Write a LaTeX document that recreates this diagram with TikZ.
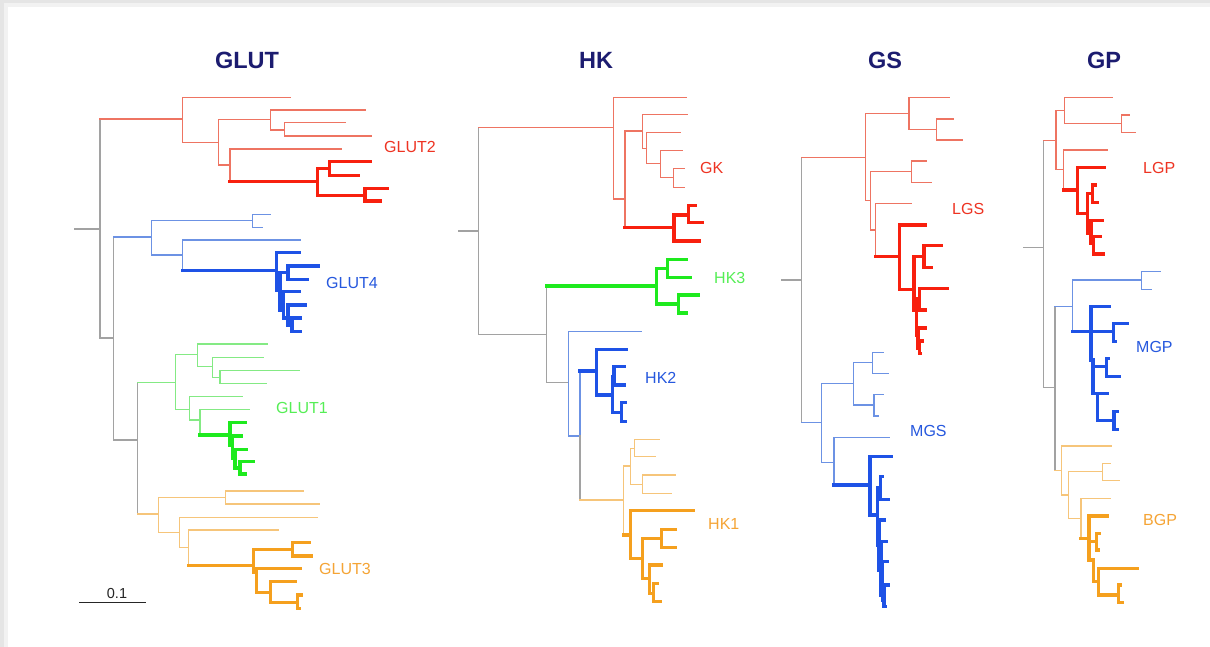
\documentclass[tikz,border=0pt]{standalone}
\usepackage{fontspec}
\setmainfont{Liberation Sans}
\definecolor{cRT}{HTML}{F8200E}
\definecolor{cRt}{HTML}{EE7462}
\definecolor{cBT}{HTML}{1E52E6}
\definecolor{cBt}{HTML}{6C92E4}
\definecolor{cGT}{HTML}{1EEA1E}
\definecolor{cGt}{HTML}{84EA84}
\definecolor{cOT}{HTML}{F5A01E}
\definecolor{cOt}{HTML}{F6C57A}
\definecolor{cGr}{HTML}{A2A2A2}
\definecolor{cNavy}{HTML}{1C1C70}
\definecolor{lRed}{HTML}{EE3322}
\definecolor{lBlue}{HTML}{2658DE}
\definecolor{lGreen}{HTML}{55EE55}
\definecolor{lOrange}{HTML}{F5A435}
\newcommand\nd[6]{\draw[#1] (#2,#4) -- (#3,#4) (#3,#5) -- (#3,#6);}
\newcommand\lf[4]{\draw[#1] (#2,#3) -- (#4,#3);}
\tikzset{
  thinln/.style={line width=1.35pt, line cap=rect},
  thickln/.style={line width=3.1pt, line cap=rect},
  rt/.style={thinln, draw=cRt}, rT/.style={thickln, draw=cRT},
  bt/.style={thinln, draw=cBt}, bT/.style={thickln, draw=cBT},
  gt/.style={thinln, draw=cGt}, gT/.style={thickln, draw=cGT},
  ot/.style={thinln, draw=cOt}, oT/.style={thickln, draw=cOT},
  gr/.style={thinln, draw=cGr},
  ttl/.style={font=\bfseries\fontsize{23.5}{23.5}\selectfont, text=cNavy, inner sep=0pt},
  lbl/.style={font=\fontsize{16}{16}\selectfont, anchor=west, inner sep=0pt},
}
\begin{document}
\begin{tikzpicture}[x=1pt,y=-1pt]
\useasboundingbox (0,0) rectangle (1210,647);
\fill[black!10] (0,0) rectangle (1210,647);
\fill[black!5] (4,3) rectangle (1210,647);
\fill[white] (8,7) rectangle (1210,647);
% titles
\node[ttl] (tglut) at (247,60) {GLUT};
\node[ttl] (thk) at (596,60) {HK};
\node[ttl] (tgs) at (885,60) {GS};
\node[ttl] (tgp) at (1104,60) {GP};
%%%%%%%%%%%%%%%% GLUT
\draw[gr] (75,229) -- (100,229);
\draw[gr] (100,119) -- (100,338);
\nd{gr}{100}{113.3}{338}{237}{440}
\nd{gr}{113.3}{137.3}{440}{382.7}{514}
\nd{rt}{100}{182.7}{119}{97.3}{142.3}
\nd{bt}{113.3}{151.7}{237}{220.7}{255}
\nd{gt}{137.3}{175.7}{382.7}{354.3}{409.3}
\nd{ot}{137.3}{158.3}{514}{497.3}{532.3}
% red
\lf{rt}{182.7}{97.3}{290}
\nd{rt}{182.7}{218.3}{142.3}{119.3}{165}
\nd{rt}{218.3}{270.7}{119.3}{110}{130}
\lf{rt}{270.7}{110}{365}
\nd{rt}{270.7}{284.3}{130}{122.7}{136}
\lf{rt}{284.3}{122.7}{345.7}
\lf{rt}{284.3}{136}{371.7}
\nd{rt}{218.3}{230}{165}{149}{181.7}
\lf{rt}{230}{149}{341.7}
\nd{rT}{230}{317.3}{181.7}{168.3}{195.7}
\nd{rT}{317.3}{329.3}{168.3}{161.7}{175.7}
\lf{rT}{329.3}{161.7}{370.7}
\lf{rT}{329.3}{175.7}{358.3}
\nd{rT}{317.3}{365}{195.7}{188.3}{201}
\lf{rT}{365}{188.3}{387.3}
\lf{rT}{365}{201}{380.7}
% blue
\nd{bt}{151.7}{252.7}{220.7}{214.3}{227.3}
\lf{bt}{252.7}{214.3}{270}
\lf{bt}{252.7}{227.3}{262.7}
\nd{bt}{151.7}{182.7}{255}{240}{270.7}
\lf{bt}{182.7}{240}{300}
\nd{bT}{182.7}{276.7}{270.7}{252.7}{290}
\lf{bT}{276.7}{252.7}{299.3}
\nd{bT}{276.7}{280}{290}{272.7}{310}
\nd{bT}{280}{288}{272.7}{266}{279.3}
\lf{bT}{288}{266}{318}
\lf{bT}{288}{279.3}{307}
\nd{bT}{280}{283.5}{310}{291.7}{318}
\lf{bT}{283.5}{291.7}{299.3}
\nd{bT}{283.5}{288}{318}{305}{325}
\lf{bT}{288}{305}{305}
\nd{bT}{288}{292}{325}{318}{331.7}
\lf{bT}{292}{318}{300}
\lf{bT}{292}{331.7}{300}
% green
\nd{gt}{175.7}{197.7}{354.3}{344}{366.7}
\lf{gt}{197.7}{344}{267.3}
\nd{gt}{197.7}{212.3}{366.7}{357.7}{377.3}
\lf{gt}{212.3}{357.7}{263.3}
\nd{gt}{212.3}{220}{377.3}{370.7}{383.3}
\lf{gt}{220}{370.7}{299}
\lf{gt}{220}{383.3}{266.7}
\nd{gt}{175.7}{189.3}{409.3}{396.7}{420}
\lf{gt}{189.3}{396.7}{242.7}
\nd{gt}{189.3}{200}{420}{409.3}{435}
\lf{gt}{200}{409.3}{249.3}
\nd{gT}{200}{230}{435}{422.7}{445}
\lf{gT}{230}{422.7}{245}
\nd{gT}{230}{232.5}{445}{436}{458}
\lf{gT}{232.5}{436}{241.7}
\nd{gT}{232.5}{235}{458}{449.3}{468}
\lf{gT}{235}{449.3}{246.7}
\nd{gT}{235}{240}{468}{461.7}{474}
\lf{gT}{240}{461.7}{253.3}
\lf{gT}{240}{474}{245}
% orange
\nd{ot}{158.3}{225.7}{497.3}{491}{504}
\lf{ot}{225.7}{491}{303.3}
\lf{ot}{225.7}{504}{319}
\nd{ot}{158.3}{179.3}{532.3}{517.3}{547.7}
\lf{ot}{179.3}{517.3}{317.3}
\nd{ot}{179.3}{188.3}{547.7}{530}{565.7}
\lf{ot}{188.3}{530}{278.3}
\nd{oT}{188.3}{253.3}{565.7}{549.3}{572}
\nd{oT}{253.3}{292.7}{549.3}{542.7}{556}
\lf{oT}{292.7}{542.7}{309.3}
\lf{oT}{292.7}{556}{311.7}
\nd{oT}{253.3}{256.7}{572}{568.3}{592.7}
\lf{oT}{256.7}{568.3}{300.7}
\nd{oT}{256.7}{270.7}{592.7}{581.7}{602.7}
\lf{oT}{270.7}{581.7}{295}
\nd{oT}{270.7}{297.3}{602.7}{595}{608.3}
\lf{oT}{297.3}{595}{301.7}
\lf{oT}{297.3}{608.3}{299}
\node[lbl, text=lRed] (glut2) at (384,147) {GLUT2};
\node[lbl, text=lBlue] (glut4) at (326,283) {GLUT4};
\node[lbl, text=lGreen] (glut1) at (276,408) {GLUT1};
\node[lbl, text=lOrange] (glut3) at (319,569) {GLUT3};
% scale bar
\coordinate (sbl) at (79,602.3);
\coordinate (sbr) at (145.7,602.3);
\draw[line width=1.2pt, black!85] (sbl) -- (sbr);
\node[font=\fontsize{14.5}{14.5}\selectfont, inner sep=0pt, text=black!85] (scale) at (117,593.5) {0.1};
%%%%%%%%%%%%%%%% HK
\draw[gr] (458.3,231) -- (478.3,231);
\draw[gr] (478.3,127.7) -- (478.3,334.3);
\nd{rt}{478.3}{613.3}{127.7}{97.3}{199}
\nd{gr}{478.3}{546.7}{334.3}{286}{382.7}
\nd{gT}{546.7}{656.7}{286}{268.3}{304}
\draw[gr] (546.7,382.7) -- (568.3,382.7);
\draw[bt] (568.3,331.7) -- (568.3,436);
\lf{bt}{568.3}{331.7}{641.7}
\draw[bt] (568.3,436) -- (580,436);
\draw[bt] (580,371) -- (580,436);
\draw[gr] (580,436) -- (580,500);
\nd{bT}{580}{596.7}{371}{349.3}{395}
\lf{bT}{596.7}{349.3}{626}
\nd{bT}{596.7}{612.7}{395}{376.7}{412.7}
\nd{bT}{612.7}{614}{376.7}{366.7}{385}
\lf{bT}{614}{366.7}{624}
\lf{bT}{614}{385}{624}
\nd{bT}{612.7}{621.7}{412.7}{402.7}{421.7}
\lf{bT}{621.7}{402.7}{625}
\lf{bT}{621.7}{421.7}{625}
% orange HK1
\nd{ot}{580}{623.3}{500}{466}{535}
\nd{ot}{623.3}{630.7}{466}{448.3}{484.3}
\nd{ot}{630.7}{634.3}{448.3}{439.3}{456.7}
\lf{ot}{634.3}{439.3}{659.3}
\lf{ot}{634.3}{456.7}{655}
\nd{ot}{630.7}{642.3}{484.3}{475}{493.3}
\lf{ot}{642.3}{475}{675}
\lf{ot}{642.3}{493.3}{671.7}
\nd{oT}{623.3}{630.7}{535}{510.7}{558.3}
\lf{oT}{630.7}{510.7}{693.3}
\nd{oT}{630.7}{642.7}{558.3}{538.3}{578.3}
\nd{oT}{642.7}{661.7}{538.3}{529.3}{547.3}
\lf{oT}{661.7}{529.3}{675}
\lf{oT}{661.7}{547.3}{675}
\nd{oT}{642.7}{649.3}{578.3}{565}{593.3}
\lf{oT}{649.3}{565}{661.7}
\nd{oT}{649.3}{653.3}{593.3}{583.3}{601.7}
\lf{oT}{653.3}{583.3}{657.3}
\lf{oT}{653.3}{601.7}{660.7}
% red GK
\lf{rt}{613.3}{97.3}{686.7}
\nd{rt}{613.3}{625}{199}{131}{227.7}
\nd{rt}{625}{642.3}{131}{114.3}{148.3}
\lf{rt}{642.3}{114.3}{687.7}
\nd{rt}{642.3}{646.7}{148.3}{132.3}{163.3}
\lf{rt}{646.7}{132.3}{680}
\nd{rt}{646.7}{660.7}{163.3}{150.7}{177.7}
\lf{rt}{660.7}{150.7}{682.3}
\nd{rt}{660.7}{673.3}{177.7}{168.3}{187.3}
\lf{rt}{673.3}{168.3}{684.3}
\lf{rt}{673.3}{187.3}{684.3}
\nd{rT}{625}{674}{227.7}{215}{241}
\nd{rT}{674}{688.3}{215}{205.7}{222.7}
\lf{rT}{688.3}{205.7}{695.7}
\lf{rT}{688.3}{222.7}{702.3}
\lf{rT}{674}{241}{699.3}
% green HK3
\nd{gT}{656.7}{667.3}{268.3}{259.3}{277.3}
\lf{gT}{667.3}{259.3}{686.7}
\lf{gT}{667.3}{277.3}{690.7}
\nd{gT}{656.7}{678.3}{304}{295}{313}
\lf{gT}{678.3}{295}{698.3}
\lf{gT}{678.3}{313}{686.7}
\node[lbl, text=lRed] (gk) at (700,168) {GK};
\node[lbl, text=lGreen] (hk3) at (714,278) {HK3};
\node[lbl, text=lBlue] (hk2) at (645,378) {HK2};
\node[lbl, text=lOrange] (hk1) at (708,524) {HK1};
%%%%%%%%%%%%%%%% GS
\draw[gr] (781.7,280) -- (801.7,280);
\draw[gr] (801.7,157.3) -- (801.7,422.7);
\nd{rt}{801.7}{865.7}{157.3}{113.3}{200.7}
\nd{rt}{865.7}{909}{113.3}{97.7}{129.3}
\lf{rt}{909}{97.7}{949.3}
\nd{rt}{909}{936.7}{129.3}{119}{140}
\lf{rt}{936.7}{119}{953.3}
\lf{rt}{936.7}{140}{962.3}
\nd{rt}{865.7}{870.7}{200.7}{171.7}{230}
\nd{rt}{870.7}{911.7}{171.7}{161}{182.3}
\lf{rt}{911.7}{161}{926.7}
\lf{rt}{911.7}{182.3}{931}
\nd{rt}{870.7}{875.7}{230}{203.3}{256.7}
\lf{rt}{875.7}{203.3}{911.7}
\nd{rT}{875.7}{899.3}{256.7}{225}{289.3}
\lf{rT}{899.3}{225}{925}
\nd{rT}{899.3}{914}{289.3}{256.7}{310}
\nd{rT}{914}{924}{256.7}{245.7}{267.3}
\lf{rT}{924}{245.7}{941.7}
\lf{rT}{924}{267.3}{931.7}
\nd{rT}{914}{916.7}{310}{299}{335}
\nd{rT}{916.7}{919.3}{299}{288.3}{310}
\lf{rT}{919.3}{288.3}{947.3}
\lf{rT}{919.3}{310}{925.7}
\nd{rT}{916.7}{918}{335}{328}{348}
\lf{rT}{918}{328}{925}
\nd{rT}{918}{919.5}{348}{341}{353.3}
\lf{rT}{919.5}{341}{922}
\lf{rT}{919.5}{353.3}{920.5}
% blue MGS
\nd{bt}{801.7}{821.7}{422.7}{383.3}{462.3}
\nd{bt}{821.7}{853.3}{383.3}{362.7}{405}
\nd{bt}{853.3}{872.3}{362.7}{352.3}{373.3}
\lf{bt}{872.3}{352.3}{883.3}
\lf{bt}{872.3}{373.3}{888.3}
\nd{bt}{853.3}{874}{405}{394.3}{416}
\lf{bt}{874}{394.3}{883.3}
\lf{bt}{874}{416}{878.3}
\nd{bt}{821.7}{834}{462.3}{437.3}{485}
\lf{bt}{834}{437.3}{889.3}
\nd{bT}{834}{870}{485}{456.7}{515}
\lf{bT}{870}{456.7}{891.7}
\nd{bT}{870}{877.3}{515}{488}{545}
\nd{bT}{877.3}{880.7}{488}{476.7}{499.3}
\lf{bT}{880.7}{476.7}{882}
\lf{bT}{880.7}{499.3}{888.3}
\nd{bT}{877.3}{879}{545}{520}{570}
\lf{bT}{879}{520}{884}
\nd{bT}{879}{881}{570}{541.7}{595}
\lf{bT}{881}{541.7}{886}
\nd{bT}{881}{882.5}{595}{561.7}{600}
\lf{bT}{882.5}{561.7}{887}
\nd{bT}{882.5}{884}{600}{585}{606.7}
\lf{bT}{884}{585}{888}
\lf{bT}{884}{606.7}{885}
\node[lbl, text=lRed] (lgs) at (952,209) {LGS};
\node[lbl, text=lBlue] (mgs) at (910,431) {MGS};
%%%%%%%%%%%%%%%% GP
\draw[gr] (1024,247.7) -- (1043.3,247.7);
\draw[gr] (1043.3,140.7) -- (1043.3,387.7);
\nd{rt}{1043.3}{1056}{140.7}{110.7}{169.3}
\nd{rt}{1056}{1064.3}{110.7}{97.7}{123.3}
\lf{rt}{1064.3}{97.7}{1112.3}
\nd{rt}{1064.3}{1121.7}{123.3}{115}{132.3}
\lf{rt}{1121.7}{115}{1129}
\lf{rt}{1121.7}{132.3}{1135}
\nd{rt}{1056}{1063.3}{169.3}{150}{190}
\lf{rt}{1063.3}{150}{1107.3}
\nd{rT}{1063.3}{1077.7}{190}{167.3}{213.3}
\lf{rT}{1077.7}{167.3}{1104}
\nd{rT}{1077.7}{1087.7}{213.3}{193.3}{233.3}
\nd{rT}{1087.7}{1092.7}{193.3}{185}{202.3}
\lf{rT}{1092.7}{185}{1095}
\lf{rT}{1092.7}{202.3}{1097}
\nd{rT}{1087.7}{1091}{233.3}{220.7}{243.3}
\lf{rT}{1091}{220.7}{1102.7}
\nd{rT}{1091}{1093.3}{243.3}{236.7}{254}
\lf{rT}{1093.3}{236.7}{1100}
\lf{rT}{1093.3}{254}{1103.3}
\nd{gr}{1043.3}{1055}{387.7}{306.7}{470.7}
% blue MGP
\nd{bt}{1055}{1072.3}{306.7}{280}{331.7}
\nd{bt}{1072.3}{1141.7}{280}{271.7}{289.3}
\lf{bt}{1141.7}{271.7}{1160.7}
\lf{bt}{1141.7}{289.3}{1151.7}
\nd{bT}{1072.3}{1091}{331.7}{306.7}{360}
\lf{bT}{1091}{306.7}{1109.3}
\nd{bT}{1091}{1113.3}{331.7}{323.3}{341.7}
\lf{bT}{1113.3}{323.3}{1127.3}
\lf{bT}{1113.3}{341.7}{1115}
\nd{bT}{1091}{1093}{360}{360}{393.3}
\nd{bT}{1093}{1106.7}{366.7}{358.3}{376.7}
\lf{bT}{1106.7}{358.3}{1108}
\lf{bT}{1106.7}{376.7}{1119}
\nd{bT}{1093}{1097.3}{393.3}{393.3}{420.7}
\lf{bT}{1097.3}{393.3}{1107.3}
\nd{bT}{1097.3}{1114}{420.7}{411.7}{429.3}
\lf{bT}{1114}{411.7}{1117.3}
\lf{bT}{1114}{429.3}{1117.3}
% orange BGP
\nd{ot}{1055}{1061.7}{470.7}{446}{495}
\lf{ot}{1061.7}{446}{1111.7}
\nd{ot}{1061.7}{1068.3}{495}{471.7}{518.3}
\nd{ot}{1068.3}{1102.3}{471.7}{463.3}{480.7}
\lf{ot}{1102.3}{463.3}{1110.7}
\lf{ot}{1102.3}{480.7}{1119}
\nd{ot}{1068.3}{1081}{518.3}{498.3}{538.3}
\lf{ot}{1081}{498.3}{1110.7}
\nd{oT}{1081}{1089}{538.3}{516}{560}
\lf{oT}{1089}{516}{1107.3}
\nd{oT}{1089}{1096.7}{541.7}{533.3}{550}
\lf{oT}{1096.7}{533.3}{1099}
\lf{oT}{1096.7}{550}{1098}
\nd{oT}{1089}{1093.3}{560}{560}{581.7}
\nd{oT}{1093.3}{1098.3}{581.7}{568.3}{595}
\lf{oT}{1098.3}{568.3}{1137.7}
\nd{oT}{1098.3}{1118.3}{595}{585}{602.7}
\lf{oT}{1118.3}{585}{1120}
\lf{oT}{1118.3}{602.7}{1122}
\node[lbl, text=lRed] (lgp) at (1143,168) {LGP};
\node[lbl, text=lBlue] (mgp) at (1136,347) {MGP};
\node[lbl, text=lOrange] (bgp) at (1143,520) {BGP};
\end{tikzpicture}
\end{document}
